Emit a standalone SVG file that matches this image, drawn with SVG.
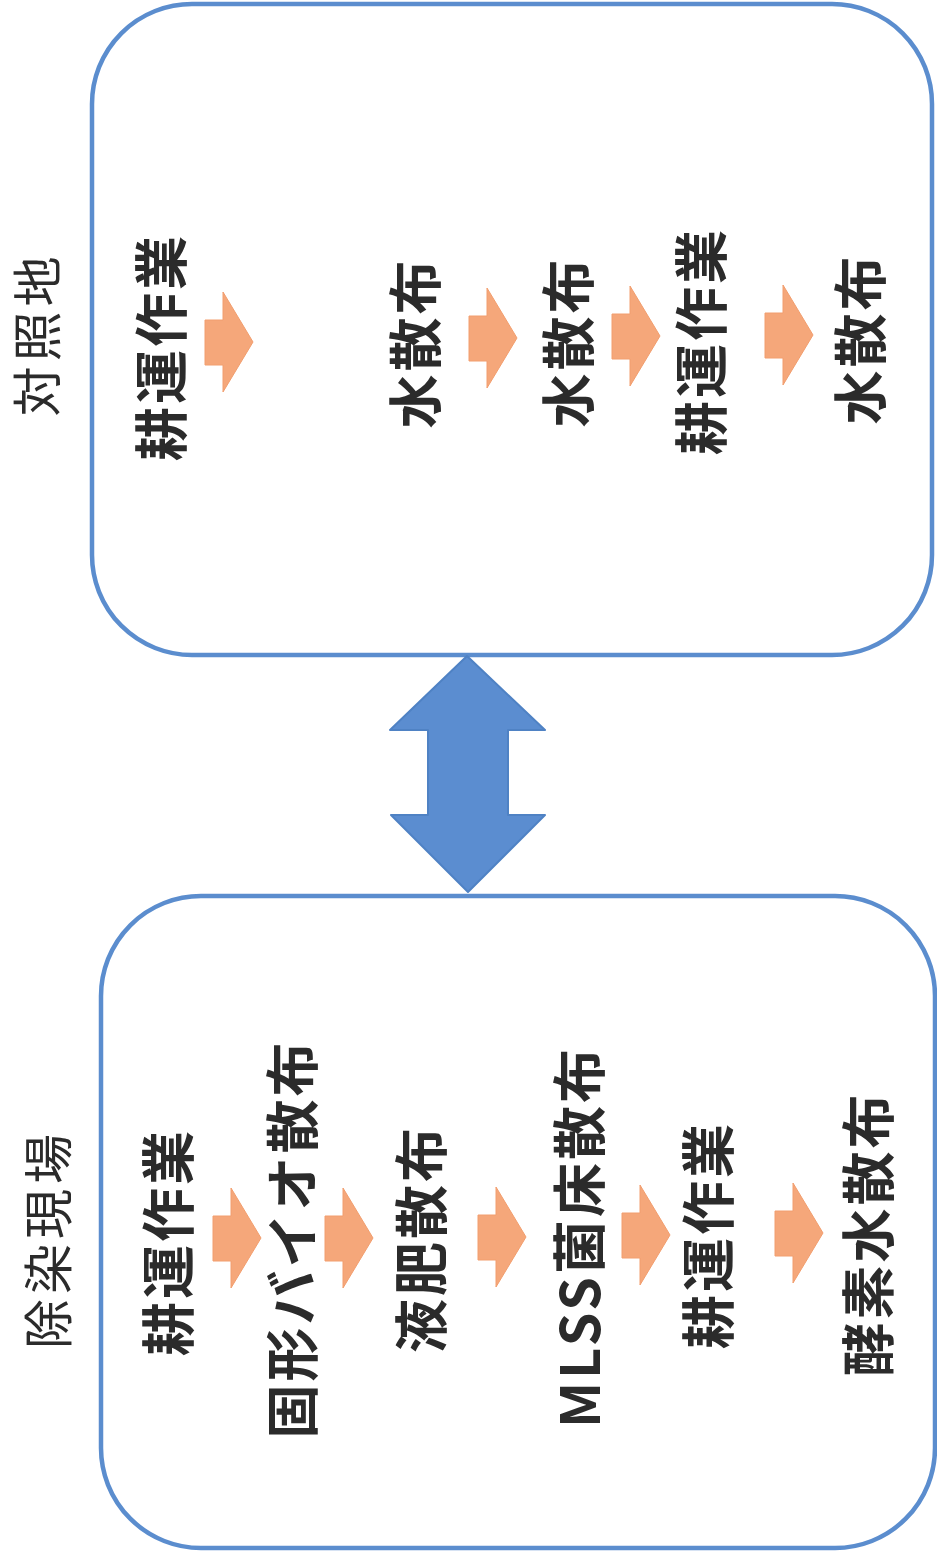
<svg xmlns="http://www.w3.org/2000/svg" xmlns:xlink="http://www.w3.org/1999/xlink" width="937" height="1563" viewBox="0 0 937 1563">
<style>
.box{fill:#ffffff;stroke:#5b8dce;stroke-width:4.5}
.t{font-family:"Noto Sans CJK JP","Noto Sans",sans-serif;font-size:54px;font-weight:bold;fill:#2b2b2b;text-anchor:middle;dominant-baseline:central;letter-spacing:3px}
.lbl{font-family:"Noto Sans CJK JP","Noto Sans",sans-serif;font-size:50px;font-weight:normal;fill:#2b2b2b;text-anchor:middle;dominant-baseline:central;letter-spacing:5px}
.oa{fill:#f5a77a;stroke:#f29e6e;stroke-width:1}
.big{fill:#5b8dd0;stroke:#4f82c4;stroke-width:2;stroke-linejoin:round}
</style>
<defs>
<path id="oarrow" class="oa" d="M0,-22 H18 V-50 L48,0 L18,50 V23 H0 Z"/>
</defs>
<rect width="937" height="1563" fill="#ffffff"/>

<g id="label-top"><text class="lbl" transform="translate(34,334) rotate(-90)">対照地</text></g>
<g id="label-bottom"><text class="lbl" transform="translate(45,1239) rotate(-90)">除染現場</text></g>

<g id="box-control">
<rect class="box" x="92" y="4" width="840" height="651" rx="100" ry="100"/>
<text class="t" transform="translate(158,347) rotate(-90)">耕運作業</text>
<text class="t" transform="translate(412,343) rotate(-90)">水散布</text>
<text class="t" transform="translate(565,342) rotate(-90)">水散布</text>
<text class="t" transform="translate(698,341) rotate(-90)">耕運作業</text>
<text class="t" transform="translate(857,339) rotate(-90)">水散布</text>
</g>

<g id="box-site">
<rect class="box" x="101" y="896" width="834" height="652" rx="100" ry="100"/>
<text class="t" transform="translate(165,1242) rotate(-90)">耕運作業</text>
<text class="t" transform="translate(289,1239) rotate(-90)">固形バイオ散布</text>
<text class="t" transform="translate(418,1239) rotate(-90)">液肥散布</text>
<text class="t" transform="translate(576,1237) rotate(-90)">MLSS菌床散布</text>
<text class="t" transform="translate(705,1235) rotate(-90)">耕運作業</text>
<text class="t" transform="translate(865,1234) rotate(-90)">酵素水散布</text>
</g>

<g id="connectors">
<use xlink:href="#oarrow" x="205" y="342"/>
<use xlink:href="#oarrow" x="469" y="338"/>
<use xlink:href="#oarrow" x="612" y="336"/>
<use xlink:href="#oarrow" x="765" y="335"/>
<use xlink:href="#oarrow" x="213" y="1238"/>
<use xlink:href="#oarrow" x="325" y="1238"/>
<use xlink:href="#oarrow" x="478" y="1237"/>
<use xlink:href="#oarrow" x="622" y="1235"/>
<use xlink:href="#oarrow" x="775" y="1233"/>
<path class="big" d="M467,656 L545,730 H508 V815 H545 L468,892 L391,815 H428 V730 H390 Z"/>
</g>
</svg>
